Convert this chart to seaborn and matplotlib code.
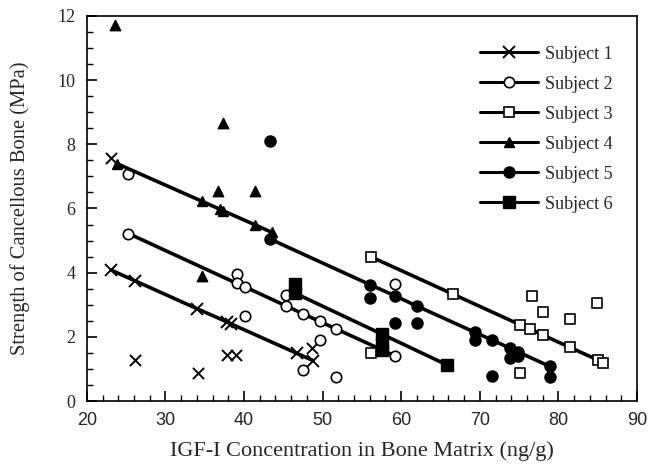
import numpy as np
import matplotlib
matplotlib.use('Agg')
import matplotlib.pyplot as plt
from matplotlib.lines import Line2D
from matplotlib.ticker import MultipleLocator
import seaborn as sns

# fitted lines (points on the regression line) per subject
s1_fit_x = [23.1, 26.1, 34.0, 37.8, 38.4, 46.7, 48.8]
s1_fit_y = [4.08, 3.75, 2.88, 2.47, 2.40, 1.49, 1.26]
s2_fit_x = [25.3, 39.05, 40.1, 45.4, 47.5, 49.65, 51.7, 59.2]
s2_fit_y = [5.22, 3.67, 3.56, 2.96, 2.72, 2.48, 2.25, 1.41]
s3_fit_x = [56.1, 66.6, 75.1, 76.4, 78.0, 81.5, 85.1, 85.7]
s3_fit_y = [4.50, 3.33, 2.38, 2.24, 2.06, 1.67, 1.27, 1.20]
s4_fit_x = [23.8, 34.6, 36.9, 37.35, 41.4, 43.5]
s4_fit_y = [7.40, 6.23, 5.98, 5.93, 5.49, 5.26]
s5_fit_x = [43.3, 56.0, 59.2, 62.0, 69.4, 71.5, 73.8, 74.9, 78.9]
s5_fit_y = [5.05, 3.63, 3.28, 2.96, 2.14, 1.91, 1.65, 1.53, 1.08]
s6_fit_x = [46.5, 57.5, 65.8]
s6_fit_y = [3.36, 2.09, 1.13]

# measured points off the lines
s1_x = [23.1, 26.1, 34.2, 37.8, 39.0, 48.6]
s1_y = [7.57, 1.29, 0.89, 1.44, 1.44, 1.65]
s2_x = [25.3, 39.05, 40.1, 45.4, 49.65, 47.5, 51.7, 59.2]
s2_y = [7.08, 3.95, 2.64, 3.32, 1.91, 0.97, 0.76, 3.64]
s3_x = [56.1, 76.6, 78.0, 81.5, 84.9, 75.1]
s3_y = [1.49, 3.27, 2.77, 2.56, 3.06, 0.89]
s4_x = [23.6, 37.35, 36.7, 41.4, 34.6]
s4_y = [11.71, 8.65, 6.56, 6.53, 3.90]
s5_x = [43.3, 56.0, 59.2, 62.0, 69.4, 71.5, 73.8, 74.9, 78.9]
s5_y = [8.10, 3.22, 2.43, 2.43, 1.91, 0.78, 1.34, 1.39, 0.76]
s6_x = [46.5, 57.5, 57.5]
s6_y = [3.64, 1.80, 1.60]

labels = ['Subject 1', 'Subject 2', 'Subject 3', 'Subject 4', 'Subject 5', 'Subject 6']

sns.set_style('ticks', {'xtick.direction': 'in', 'ytick.direction': 'in'})
plt.rcParams['font.family'] = ['Liberation Serif', 'DejaVu Serif']

fig = plt.figure(figsize=(6.48, 4.68), dpi=100)
ax = fig.add_axes([0.134, 0.143, 0.849, 0.823])

styles = [
    dict(marker='x', mfc='black', mec='black', mew=1.4, ms=8),
    dict(marker='o', mfc='white', mec='black', mew=1.2, ms=7.5),
    dict(marker='s', mfc='white', mec='black', mew=1.2, ms=7.5),
    dict(marker='^', mfc='black', mec='black', mew=1.0, ms=7.5),
    dict(marker='o', mfc='black', mec='black', mew=1.0, ms=8),
    dict(marker='s', mfc='black', mec='black', mew=1.0, ms=8),
]
fits = [(s1_fit_x, s1_fit_y), (s2_fit_x, s2_fit_y), (s3_fit_x, s3_fit_y),
        (s4_fit_x, s4_fit_y), (s5_fit_x, s5_fit_y), (s6_fit_x, s6_fit_y)]
obs = [(s1_x, s1_y), (s2_x, s2_y), (s3_x, s3_y),
       (s4_x, s4_y), (s5_x, s5_y), (s6_x, s6_y)]

for (ox, oy), st in zip(obs, styles):
    sns.scatterplot(x=ox, y=oy, ax=ax, marker=st['marker'], s=st['ms'] ** 2,
                    facecolor=st['mfc'], edgecolor='black',
                    linewidth=st['mew'], color='black', zorder=3)

for (fx, fy), st in zip(fits, styles):
    sns.lineplot(x=fx, y=fy, ax=ax, color='black', lw=2.6, zorder=4, **st)

ax.set_xlim(20, 90)
ax.set_ylim(0, 12)
ax.xaxis.set_major_locator(MultipleLocator(10))
ax.xaxis.set_minor_locator(MultipleLocator(2))
ax.yaxis.set_major_locator(MultipleLocator(2))
ax.yaxis.set_minor_locator(MultipleLocator(0.5))
ax.tick_params(which='both', direction='in', bottom=True, left=True,
               top=False, right=False, color='black')
ax.tick_params(which='major', length=7, width=1.2)
ax.tick_params(which='minor', length=4, width=1.0)
ax.tick_params(axis='y', labelsize=13, pad=8)
ax.tick_params(axis='x', labelsize=13, pad=8)
for lab in ax.get_xticklabels():
    lab.set_family(['Liberation Sans', 'DejaVu Sans'])
for sp in ax.spines.values():
    sp.set_visible(True)
    sp.set_color('black')
    sp.set_linewidth(1.2)

ax.set_xlabel('IGF-I Concentration in Bone Matrix (ng/g)', fontsize=16, labelpad=9)
ax.set_ylabel('Strength of Cancellous Bone (MPa)', fontsize=14.8, labelpad=20)

handles = [Line2D([], [], color='black', lw=2.2, **st) for st in styles]
ax.legend(handles, labels, loc='upper right', bbox_to_anchor=(0.985, 0.965),
          frameon=False, fontsize=13, handlelength=3.2, labelspacing=0.72,
          handletextpad=0.4)

fig.savefig('out.png', dpi=100)
